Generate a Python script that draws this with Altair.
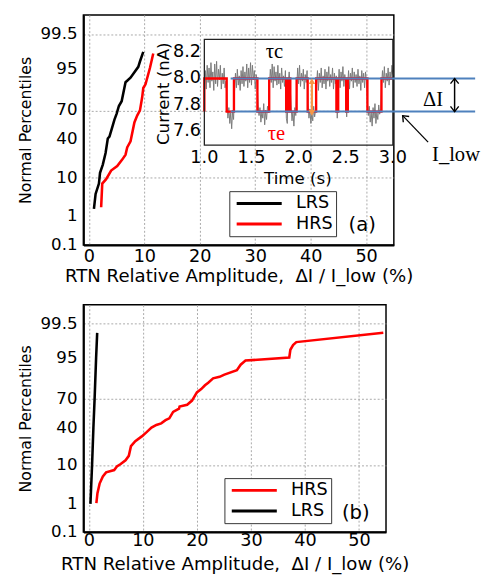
import altair as alt
import pandas as pd
from statistics import NormalDist

ND = NormalDist()
FONT = "DejaVu Sans"
SERIF = "Liberation Serif"

# ---------------- panel (a): cumulative distributions ----------------
A_LRS_AMP = [0.9, 1.2, 1.8, 2.0, 2.5, 3.0, 3.4, 3.7, 4.3, 4.6, 5.0, 5.4, 5.9, 6.6, 7.5, 8.9, 9.2, 9.8]
A_LRS_PCT = [1.7, 4.3, 7.5, 12.5, 17.6, 26.8, 41, 43, 55, 61, 67, 74, 78, 90, 92, 95.5, 96.7, 98.2]
A_HRS_AMP = [2.2, 2.4, 3.1, 4.0, 5.1, 6.0, 6.6, 6.9, 7.5, 8.2, 8.7, 9.2, 9.6, 9.8, 10.2, 11.0, 11.6]
A_HRS_PCT = [1.9, 7.5, 9.3, 13.8, 16.6, 21.3, 25.4, 32, 38, 58, 65, 70, 81, 87, 89, 95.2, 98]

# ---------------- panel (b): cumulative distributions ----------------
B_HRS_AMP = [1.4, 1.6, 2.0, 2.6, 3.2, 4.7, 5.2, 5.9, 6.8, 7.4, 7.8, 8.6, 9.8, 10.7, 11.6, 12.5,
             13.4, 14.2, 14.9, 15.6, 16.7, 16.8, 18.2, 19.1, 20.0, 20.8, 21.5, 22.1, 23.0, 24.2,
             25.1, 27.4, 28.1, 29.0, 37.1, 37.3, 37.8, 38.4, 54.5]
B_HRS_PCT = [1.05, 2.1, 3.8, 5.7, 7.1, 8.0, 9.5, 10.7, 12.7, 15.4, 22.5, 26.7, 31.2, 35.4, 40.1, 42.9,
             44.6, 48, 50, 57, 60.4, 62.7, 64.4, 68.6, 76, 78.7, 81.6, 83.4, 86.2, 87.1,
             88.3, 90.5, 92.8, 94.2, 95.1, 96.9, 97.7, 98.1, 99.0]
B_LRS_AMP = [0.3, 0.6, 0.85, 1.07, 1.35, 1.55]
B_LRS_PCT = [1.0, 10, 40, 70, 95, 99]

PCT_TICKS = [0.1, 1, 10, 40, 70, 95, 99.5]
PCT_LABELS = ["0.1", "1", "10", "40", "70", "95", "99.5"]
PCT_DOMAIN = [0.1, 99.9]
AMP_GRID = [0, 5, 10, 15, 20, 25, 30, 35, 40, 45, 50]
AMP_DOMAIN = [-1, 55]
X_TITLE = "RTN Relative Amplitude,\u00a0 \u0394I / I_low (%)"
Y_TITLE = "Normal Percentiles"

# ---------------- inset: RTN current trace ----------------
TRACE_I = [
    7.95, 8.06, 7.92, 8.10, 7.97, 8.08, 7.93, 8.12, 7.98, 8.05,
    7.91, 8.11, 7.96, 8.13, 7.94, 8.07, 7.99, 8.10, 7.92, 8.04,
    7.96, 8.08, 7.93, 7.98,
    7.82, 7.70, 7.78, 7.66, 7.74, 7.62, 7.76, 7.69,
    7.90, 8.04, 7.93, 8.07, 7.95, 8.02, 7.91, 8.06,
    7.96, 8.09, 7.94, 8.05, 7.98, 8.11, 7.93, 8.08, 7.97, 8.12,
    7.95, 8.10, 7.99, 8.06, 7.92, 8.03, 7.96,
    7.80, 7.72, 7.78, 7.67, 7.75, 7.70, 7.81, 7.65, 7.76, 7.69, 7.79, 7.74,
    7.94, 8.07, 7.97, 8.11, 7.93, 8.09, 7.98, 8.05, 7.95, 8.10, 7.96,
    8.04, 7.92, 8.08, 7.97, 8.02, 7.94, 8.06,
    7.70, 7.66,
    7.97, 8.05, 7.95,
    7.80, 7.68, 7.75, 7.64, 7.78, 7.72,
    7.93, 8.08, 7.96, 8.10, 7.94, 8.04, 7.98, 8.07, 7.92, 8.03, 7.97, 8.06,
    7.81, 7.70, 7.77, 7.66, 7.74, 7.68, 7.79, 7.71, 7.76,
    7.95, 8.06, 7.91, 8.04, 7.97, 8.08, 7.93, 8.02, 7.96, 8.07, 7.92,
    8.05, 7.98, 8.09, 7.94, 8.03, 7.97, 8.08, 7.92, 8.04, 7.96, 8.02,
    7.70,
    7.96, 8.07, 7.93, 8.05, 7.98, 8.09, 7.94, 8.03, 7.97,
    7.71,
    7.95, 8.06, 7.92, 8.04, 7.98, 8.08, 7.93, 8.05, 7.97, 8.03,
    7.94, 8.07, 7.96, 8.02, 7.91, 8.06, 7.97, 8.04, 7.93, 8.05, 7.98,
    7.82, 7.72, 7.79, 7.67, 7.75, 7.64, 7.78, 7.70, 7.81, 7.66, 7.74, 7.69, 7.80, 7.73, 7.77,
    7.94, 8.06, 7.97, 8.09, 7.93, 8.04, 7.98, 8.08, 7.95, 8.05, 7.99, 8.10, 8.03,
]
TRACE_START, TRACE_STEP = 1.0, 0.01
RTN_T = [1.0, 1.0, 1.237, 1.314, 1.563, 1.688, 1.868, 1.888, 1.912, 1.979, 2.096,
         2.186, 2.401, 2.42, 2.505, 2.522, 2.73, 2.879, 3.0]
RTN_STATE = [0, 1, 0, 1, 0, 1, 0, 1, 0, 1, 0, 1, 0, 1, 0, 1, 0, 1, 1]
LEVEL_HIGH, LEVEL_LOW = 8.0, 7.75
LEVEL_T = [1.279, 3.873]
DI_ARROW_T = 3.655
ORANGE_T = 2.141
ORANGE_V = [7.735, 7.985]
ILOW_ARROW = [(3.374, 7.519), (3.104, 7.719)]
INSET_T_DOMAIN = [1.0, 3.0]
INSET_I_DOMAIN = [7.496, 8.296]
INSET_T_TICKS = [1.0, 1.5, 2.0, 2.5, 3.0]
INSET_I_TICKS = [7.6, 7.8, 8.0, 8.2]
INSET_T_LABEL_V = 7.40
INSET_I_LABEL_T = 0.964
NOTES = [("\u03c4c", 1.743, 8.20, "black"), ("\u03c4e", 1.764, 7.578, "red"),
         ("\u0394I", 3.426, 7.837, "black"), ("I_low", 3.67, 7.422, "black")]
INSET_TITLES = [("Current (nA)", 0.569, 7.885, 270), ("Time (s)", 1.992, 7.237, 0)]

# ---------------- layout sizes ----------------
TOP_W, TOP_H = 317, 235
BOT_W, BOT_H = 309, 232
INSET_X_RANGE = [123.5, 316]
INSET_Y_RANGE = [133, 25]
LEGEND_PATH = "M-3,0H3"

ZCALC = "quantileNormal(datum.p / 100)"
Z_DOMAIN = [ND.inv_cdf(PCT_DOMAIN[0] / 100), ND.inv_cdf(PCT_DOMAIN[1] / 100)]
Z_TICKS = [ND.inv_cdf(p / 100) for p in PCT_TICKS]


def series_df(names, amps, pcts):
    rows = []
    for name, a_list, p_list in zip(names, amps, pcts):
        for i, (a, p) in enumerate(zip(a_list, p_list)):
            rows.append({"series": name, "amp": a, "p": p, "i": i})
    return pd.DataFrame(rows)


def cdf_panel(df, order, colors, xlabpad, xtitlepad, legx, legy, tag, tag_amp, tag_p):
    x_axis = alt.Axis(values=AMP_GRID, title=X_TITLE, grid=True,
                      labelExpr="datum.value % 10 == 0 ? datum.label : ''",
                      labelPadding=xlabpad, titlePadding=xtitlepad)
    y_axis = alt.Axis(values=Z_TICKS, title=Y_TITLE, grid=True, labels=False, titlePadding=51)
    legend = alt.Legend(title=None, orient="none", legendX=legx, legendY=legy,
                        direction="vertical", symbolType=LEGEND_PATH,
                        symbolSize=235, symbolStrokeWidth=3, symbolOffset=18,
                        labelFont=FONT, labelFontSize=18, labelColor="black",
                        labelExpr="datum.label + '\u00a0\u00a0\u00a0'",
                        labelOffset=28, padding=3, rowPadding=2,
                        strokeColor="#333333", fillColor="white")
    x_scale = alt.Scale(domain=AMP_DOMAIN, nice=False, zero=False)
    y_scale = alt.Scale(domain=Z_DOMAIN, nice=False, zero=False)
    lines = alt.Chart(df).transform_calculate(z=ZCALC).mark_line(strokeWidth=2.6).encode(
        x=alt.X("amp:Q", scale=x_scale, axis=x_axis),
        y=alt.Y("z:Q", scale=y_scale, axis=y_axis),
        color=alt.Color("series:N", scale=alt.Scale(domain=order, range=colors), legend=legend),
        order=alt.Order("i:Q"),
    )
    ylab_df = pd.DataFrame({"p": PCT_TICKS, "lab": PCT_LABELS})
    ylabels = alt.Chart(ylab_df).transform_calculate(z=ZCALC).mark_text(
        font=FONT, fontSize=17, color="black", align="right", baseline="middle").encode(
        x=alt.value(-6), y="z:Q", text="lab:N")
    tag_df = pd.DataFrame({"amp": [tag_amp], "p": [tag_p], "label": [tag]})
    tag_mark = alt.Chart(tag_df).transform_calculate(z=ZCALC).mark_text(
        font=FONT, fontSize=20, color="black").encode(x="amp:Q", y="z:Q", text="label:N")
    return [lines, ylabels, tag_mark]


# ---------- inset ----------
XS = alt.Scale(domain=INSET_T_DOMAIN, range=INSET_X_RANGE, nice=False, zero=False)
YS = alt.Scale(domain=INSET_I_DOMAIN, range=INSET_Y_RANGE, nice=False, zero=False)


def xi(f):
    return alt.X(f, type="quantitative", scale=XS, axis=None)


def yi(f):
    return alt.Y(f, type="quantitative", scale=YS, axis=None)


trace_df = pd.DataFrame({"t": [round(TRACE_START + TRACE_STEP * k, 2) for k in range(len(TRACE_I))],
                         "v": TRACE_I, "i": list(range(len(TRACE_I)))})
rtn_df = pd.DataFrame({"t": RTN_T, "v": [LEVEL_HIGH if s else LEVEL_LOW for s in RTN_STATE],
                       "i": list(range(len(RTN_T)))})
frame_df = pd.DataFrame({"t0": [INSET_T_DOMAIN[0]], "t1": [INSET_T_DOMAIN[1]],
                         "v0": [INSET_I_DOMAIN[0]], "v1": [INSET_I_DOMAIN[1]]})
level_df = pd.DataFrame({"t0": [LEVEL_T[0]] * 2, "t1": [LEVEL_T[1]] * 2, "v": [LEVEL_HIGH, LEVEL_LOW]})
vert_df = pd.DataFrame({"t": [ORANGE_T, DI_ARROW_T], "v0": [ORANGE_V[0], LEVEL_LOW],
                        "v1": [ORANGE_V[1], LEVEL_HIGH], "c": ["#f79646", "black"],
                        "w": [2.2, 1.5]})
tri_df = pd.DataFrame({"t": [ORANGE_T, ORANGE_T], "v": [ORANGE_V[1] - 0.005, ORANGE_V[0] + 0.005],
                       "s": ["triangle-up", "triangle-down"]})
chev_df = pd.DataFrame({"t": [DI_ARROW_T, DI_ARROW_T, ILOW_ARROW[1][0]],
                        "v": [LEVEL_HIGH, LEVEL_LOW, ILOW_ARROW[1][1]],
                        "s": ["M-0.8,1L0,0L0.8,1", "M-0.8,-1L0,0L0.8,-1", "M-0.8,1L0,0L0.8,1"],
                        "a": [0, 0, 316]})
diag_df = pd.DataFrame({"t0": [ILOW_ARROW[0][0]], "v0": [ILOW_ARROW[0][1]],
                        "t1": [ILOW_ARROW[1][0]], "v1": [ILOW_ARROW[1][1]]})
notes_df = pd.DataFrame({"txt": [n[0] for n in NOTES], "t": [n[1] for n in NOTES],
                         "v": [n[2] for n in NOTES], "c": [n[3] for n in NOTES]})
tlab_df = pd.DataFrame({"t": INSET_T_TICKS, "v": [INSET_T_LABEL_V] * len(INSET_T_TICKS),
                        "lab": [f"{x:.1f}" for x in INSET_T_TICKS]})
ilab_df = pd.DataFrame({"t": [INSET_I_LABEL_T] * len(INSET_I_TICKS), "v": INSET_I_TICKS,
                        "lab": [f"{x:.1f}" for x in INSET_I_TICKS]})
ititle_df = pd.DataFrame({"txt": [n[0] for n in INSET_TITLES], "t": [n[1] for n in INSET_TITLES],
                          "v": [n[2] for n in INSET_TITLES], "ang": [n[3] for n in INSET_TITLES]})

inset = alt.layer(
    alt.Chart(trace_df).mark_line(color="#7a7a7a", strokeWidth=1).encode(
        x=xi("t"), y=yi("v"), order=alt.Order("i:Q")),
    alt.Chart(rtn_df).mark_line(color="#ff0000", strokeWidth=2.4, interpolate="step-after").encode(
        x=xi("t"), y=yi("v"), order=alt.Order("i:Q")),
    alt.Chart(frame_df).mark_rect(filled=False, stroke="#222222", strokeWidth=1.3).encode(
        x=xi("t0"), x2="t1", y=yi("v0"), y2="v1"),
    alt.Chart(level_df).mark_rule(color="#4f81bd", strokeWidth=2).encode(
        x=xi("t0"), x2="t1", y=yi("v")),
    alt.Chart(vert_df).mark_rule().encode(
        x=xi("t"), y=yi("v0"), y2="v1",
        color=alt.Color("c:N", scale=None), strokeWidth=alt.StrokeWidth("w:Q", scale=None)),
    alt.Chart(tri_df).mark_point(filled=True, color="#f79646", size=45, opacity=1).encode(
        x=xi("t"), y=yi("v"), shape=alt.Shape("s:N", scale=None)),
    alt.Chart(diag_df).mark_rule(color="black", strokeWidth=1.3).encode(
        x=xi("t0"), x2="t1", y=yi("v0"), y2="v1"),
    alt.Chart(chev_df).mark_point(filled=False, color="black", size=110, strokeWidth=1.4, opacity=1).encode(
        x=xi("t"), y=yi("v"), shape=alt.Shape("s:N", scale=None), angle=alt.Angle("a:Q", scale=None)),
    alt.Chart(notes_df).mark_text(font=SERIF, fontSize=21).encode(
        x=xi("t"), y=yi("v"), text="txt:N", color=alt.Color("c:N", scale=None)),
    alt.Chart(tlab_df).mark_text(font=FONT, fontSize=18, color="black").encode(
        x=xi("t"), y=yi("v"), text="lab:N"),
    alt.Chart(ilab_df).mark_text(font=FONT, fontSize=18, color="black", align="right").encode(
        x=xi("t"), y=yi("v"), text="lab:N"),
    alt.Chart(ititle_df).mark_text(font=FONT, fontSize=17, color="black").encode(
        x=xi("t"), y=yi("v"), text="txt:N", angle=alt.Angle("ang:Q", scale=None)),
)

# ---------- panel (a) ----------
df_a = series_df(["LRS", "HRS"], [A_LRS_AMP, A_HRS_AMP], [A_LRS_PCT, A_HRS_PCT])
layers_a = cdf_panel(df_a, ["LRS", "HRS"], ["black", "#ff0000"], 3, 1, 149, 180, "(a)", 49.3, 0.52)
spacer = alt.Chart(pd.DataFrame({"s": ["."]})).mark_text(opacity=0, align="left").encode(
    x=alt.value(-76), y=alt.value(100), text="s:N")
top = alt.layer(alt.layer(*layers_a, spacer), inset).resolve_scale(
    x="independent", y="independent").properties(width=TOP_W, height=TOP_H)

# ---------- panel (b) ----------
df_b = series_df(["HRS", "LRS"], [B_HRS_AMP, B_LRS_AMP], [B_HRS_PCT, B_LRS_PCT])
layers_b = cdf_panel(df_b, ["HRS", "LRS"], ["#ff0000", "black"], 0, 5, 144, 177, "(b)", 49.4, 0.49)
bottom = alt.layer(*layers_b).properties(width=BOT_W, height=BOT_H)

chart = alt.concat(top, bottom, columns=1, spacing=18, align="none", padding=0).resolve_scale(
    color="independent").configure_view(stroke="black", strokeWidth=1.5).configure_axis(
    labelFont=FONT, titleFont=FONT, labelColor="black", titleColor="black",
    titleFontWeight="normal", domainColor="black", domainWidth=2, gridColor="#a8a8a8",
    gridDash=[2, 2], gridWidth=1, ticks=False, labelFlush=False, labelOverlap=False
).configure_axisX(labelFontSize=18, titleFontSize=18.5).configure_axisY(
    titleFontSize=16
).properties(background="white")

chart.save("out.html", embed_options={"renderer": "svg", "actions": False})
